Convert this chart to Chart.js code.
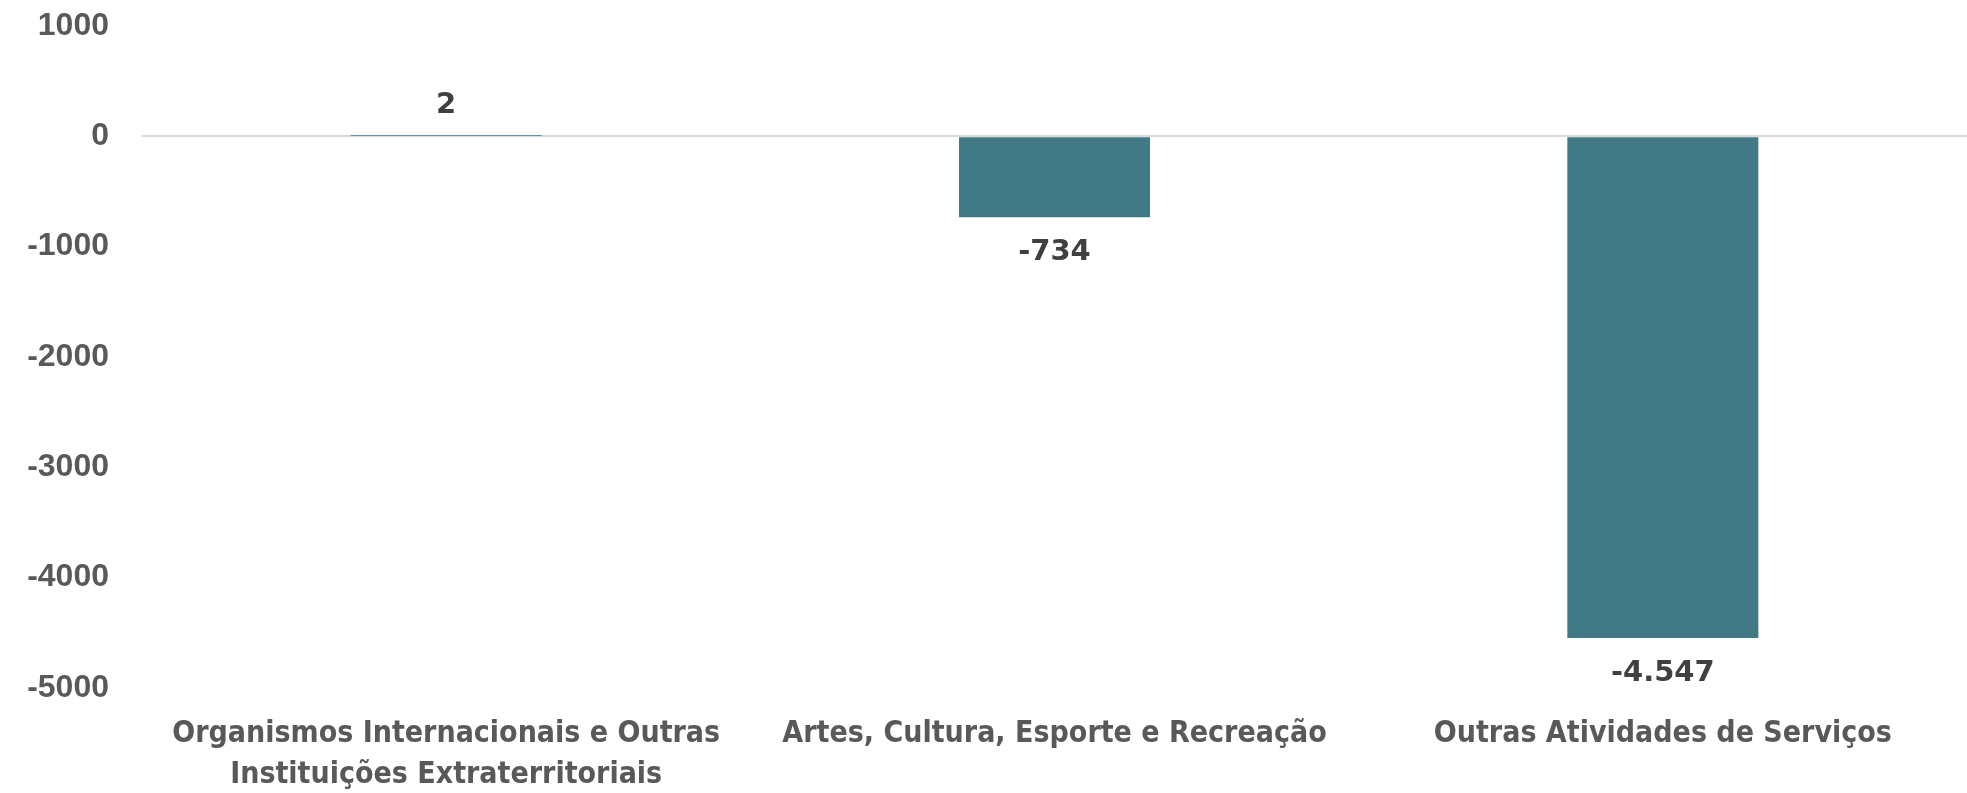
<!DOCTYPE html>
<html>
<head>
<meta charset="utf-8">
<script src="https://cdn.jsdelivr.net/npm/chart.js@4.4.1/dist/chart.umd.min.js"></script>
<style>
  html, body { margin: 0; padding: 0; background: #fff; }
  #wrap { width: 1967px; height: 793px; position: relative; }
</style>
</head>
<body>
<div id="wrap"><canvas id="saldoChart"></canvas></div>
<script>
// Chart data
const categories = [
  ['Organismos Internacionais e Outras', 'Instituições Extraterritoriais'],
  'Artes, Cultura, Esporte e Recreação',
  'Outras Atividades de Serviços'
];
const saldo = [2, -734, -4547];
const yTicks = [1000, 0, -1000, -2000, -3000, -4000, -5000];

const BAR_COLOR = '#417a84';
const CAT_FONT = "'Liberation Sans Narrow', 'DejaVu Sans Condensed', sans-serif";
const NUM_FONT = "'Liberation Sans', Arial, sans-serif";

// draws the value next to each bar (above if positive, below if negative)
const valueLabels = {
  id: 'valueLabels',
  afterDatasetsDraw(chart) {
    const ctx = chart.ctx;
    const meta = chart.getDatasetMeta(0);
    ctx.save();
    ctx.font = "bold 29px 'DejaVu Sans', sans-serif";
    ctx.fillStyle = '#404040';
    ctx.textAlign = 'center';
    meta.data.forEach((bar, i) => {
      const v = saldo[i];
      const txt = v.toLocaleString('pt-BR');
      if (v >= 0) {
        ctx.textBaseline = 'bottom';
        ctx.fillText(txt, bar.x, bar.y - 16);
      } else {
        ctx.textBaseline = 'top';
        ctx.fillText(txt, bar.x, bar.y + 21);
      }
    });
    ctx.restore();
  }
};

new Chart(document.getElementById('saldoChart'), {
  type: 'bar',
  data: {
    labels: categories,
    datasets: [{
      data: saldo,
      backgroundColor: BAR_COLOR,
      barPercentage: 0.314,
      categoryPercentage: 1
    }]
  },
  options: {
    responsive: true,
    maintainAspectRatio: false,
    animation: false,
    layout: { padding: 0 },
    plugins: { legend: { display: false }, tooltip: { enabled: false } },
    scales: {
      x: {
        grid: { display: false },
        border: { display: false },
        ticks: {
          color: '#595959',
          font: { family: CAT_FONT, size: 30, weight: 'bold', lineHeight: 1.35 },
          padding: 18,
          maxRotation: 0,
          autoSkip: false
        },
        afterFit(scale) { scale.height = 105; }
      },
      y: {
        min: -5000,
        max: 1000,
        afterBuildTicks(scale) { scale.ticks = yTicks.map(v => ({ value: v })); },
        grid: {
          drawTicks: false,
          color: ctx => (ctx.tick && ctx.tick.value === 0 ? '#d9d9d9' : 'rgba(0,0,0,0)'),
          lineWidth: 2
        },
        border: { display: false },
        ticks: {
          color: '#595959',
          font: { family: NUM_FONT, size: 32, weight: 'bold' },
          padding: 33,
          callback: v => String(v)
        },
        afterFit(scale) {
          scale.width = 142;
          scale.paddingTop = 26;
          scale.paddingBottom = 0;
        }
      }
    }
  },
  plugins: [valueLabels]
});
</script>
</body>
</html>
